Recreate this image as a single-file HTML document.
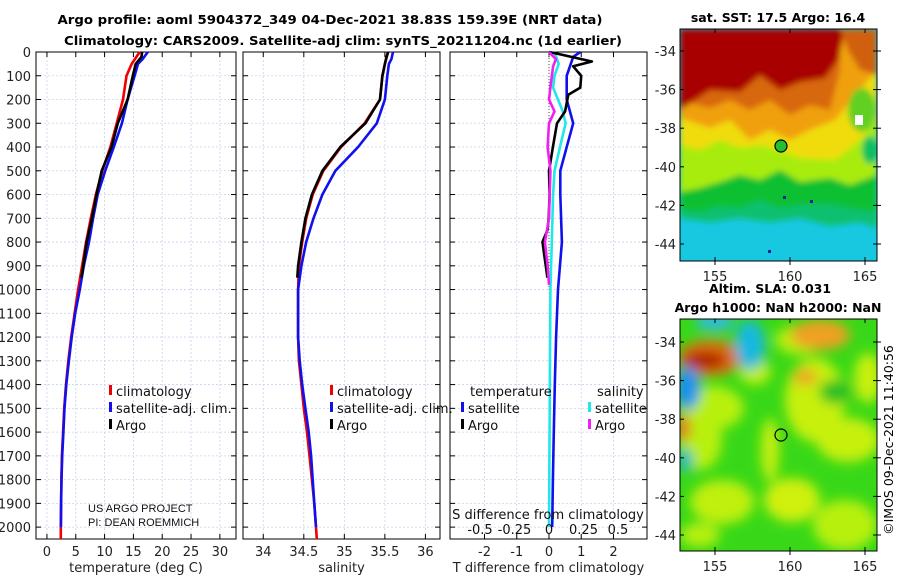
<!DOCTYPE html>
<html><head><meta charset="utf-8"><style>
html,body{margin:0;padding:0;background:#fff;width:900px;height:580px;overflow:hidden}
svg{display:block;font-family:"DejaVu Sans","Liberation Sans",sans-serif}
</style></head><body>
<svg id="fig" width="900" height="580" viewBox="0 0 900 580" xmlns="http://www.w3.org/2000/svg">
<defs>
<filter id="blur3" x="-20%" y="-20%" width="140%" height="140%"><feGaussianBlur stdDeviation="3"/></filter>
<filter id="blur6" x="-30%" y="-30%" width="160%" height="160%"><feGaussianBlur stdDeviation="6"/></filter>
<clipPath id="clipTop"><rect x="680" y="29" width="197" height="232"/></clipPath>
<clipPath id="clipBot"><rect x="680" y="319" width="197" height="232"/></clipPath>
</defs>
<g font-weight="bold" font-size="12.5" text-anchor="middle">
<text x="330" y="24" textLength="545" lengthAdjust="spacingAndGlyphs">Argo profile: aoml 5904372_349 04-Dec-2021 38.83S 159.39E (NRT data)</text>
<text x="343" y="45" textLength="558" lengthAdjust="spacingAndGlyphs">Climatology: CARS2009. Satellite-adj clim: synTS_20211204.nc (1d earlier)</text>
</g>
<g id="panels"></g>

<!-- SST map -->
<g clip-path="url(#clipTop)">
<rect x="680" y="29" width="197" height="232" fill="#18c8e0"/>
<g filter="url(#blur3)">
<path d="M680 29H877V228L860 222L830 226L800 218L770 222L740 218L710 222L680 218Z" fill="#10c070"/>
<path d="M680 29H877V212L850 208L830 204L800 205L780 208L760 200L740 208L720 206L700 212L680 210Z" fill="#10c030"/>
<path d="M680 29H877V175L850 185L830 178L800 182L780 170L760 180L740 175L720 182L700 188L680 192Z" fill="#a8ec10"/>
<path d="M680 29H877V120L860 140L835 160L800 158L780 150L760 145L740 148L720 140L700 150L680 145Z" fill="#f0dc10"/>
<path d="M680 29H877V70L860 90L835 120L810 130L790 140L770 130L750 140L730 120L710 128L680 118Z" fill="#f0a010"/>
<path d="M680 29H840V70L830 110L810 105L790 115L770 100L750 110L730 100L710 108L680 100Z" fill="#d86810"/>
<path d="M680 29H845L838 60L825 78L800 82L780 90L760 75L740 92L710 90L680 110Z" fill="#a80000"/>
<path d="M840 29H877V75L860 70L848 50Z" fill="#d06010"/>
<ellipse cx="862" cy="110" rx="14" ry="22" fill="#60d020"/>
<ellipse cx="870" cy="150" rx="8" ry="14" fill="#10c060"/>
</g>
<rect x="855" y="115" width="8" height="10" fill="#fff"/>
<rect x="810" y="200" width="3" height="3" fill="#0020a0"/>
<rect x="783" y="196" width="3" height="3" fill="#0020a0"/>
<rect x="768" y="250" width="3" height="3" fill="#0020a0"/>
<circle cx="781" cy="146" r="6" fill="#20c030" stroke="#000" stroke-width="1.2"/>
</g>
<rect x="680" y="29" width="197" height="232" fill="none" stroke="#000"/>
<text x="778" y="22" text-anchor="middle" font-weight="bold" font-size="12.5">sat. SST: 17.5 Argo: 16.4</text>

<!-- SLA map -->
<g clip-path="url(#clipBot)">
<rect x="680" y="319" width="197" height="232" fill="#38d818"/>
<g filter="url(#blur6)">
<ellipse cx="700" cy="440" rx="22" ry="30" fill="#b8f010"/>
<ellipse cx="712" cy="408" rx="32" ry="22" fill="#b8f010"/>
<ellipse cx="800" cy="340" rx="25" ry="15" fill="#b8f010"/>
<ellipse cx="815" cy="400" rx="30" ry="42" fill="#c8f010"/>
<ellipse cx="848" cy="440" rx="32" ry="22" fill="#c8f010"/>
<ellipse cx="868" cy="378" rx="14" ry="25" fill="#c8f010"/>
<ellipse cx="792" cy="500" rx="28" ry="22" fill="#d0f010"/>
<ellipse cx="770" cy="450" rx="9" ry="32" fill="#c8f010"/>
<ellipse cx="722" cy="502" rx="32" ry="22" fill="#c0f010"/>
<ellipse cx="845" cy="525" rx="32" ry="25" fill="#b8f010"/>
<ellipse cx="755" cy="372" rx="16" ry="13" fill="#c0f010"/>
<ellipse cx="700" cy="535" rx="20" ry="12" fill="#b8f010"/>
<ellipse cx="820" cy="335" rx="30" ry="15" fill="#f0a020"/>
<ellipse cx="805" cy="377" rx="12" ry="8" fill="#f0a020"/>
<ellipse cx="710" cy="358" rx="32" ry="18" fill="#e07010"/>
<ellipse cx="705" cy="360" rx="22" ry="8" fill="#a81000"/>
<ellipse cx="683" cy="428" rx="8" ry="14" fill="#e08020"/>
<ellipse cx="750" cy="345" rx="15" ry="25" fill="#18b8e0"/>
<ellipse cx="715" cy="322" rx="20" ry="8" fill="#30b8f0"/>
<ellipse cx="688" cy="388" rx="12" ry="22" fill="#1890f0"/>
<ellipse cx="685" cy="460" rx="8" ry="12" fill="#10b8c0"/>
<ellipse cx="835" cy="392" rx="16" ry="12" fill="#20c020"/>
</g>
<circle cx="781" cy="435" r="6" fill="none" stroke="#000" stroke-width="1.2"/>
</g>
<rect x="680" y="319" width="197" height="232" fill="none" stroke="#000"/>
<g font-weight="bold" font-size="12.5" text-anchor="middle">
<text x="770" y="293">Altim. SLA: 0.031</text>
<text x="778" y="312">Argo h1000: NaN h2000: NaN</text>
</g>
<text transform="translate(893,440) rotate(-90)" text-anchor="middle" font-size="12.5">©IMOS 09-Dec-2021 11:40:56</text>
<g id="mapaxes"></g>
</svg>
<script>
// ---- data ----
const depthTicks = [0,100,200,300,400,500,600,700,800,900,1000,1100,1200,1300,1400,1500,1600,1700,1800,1900,2000];
const tempTicks = [0,5,10,15,20,25,30];
const salTicks = [34,34.5,35,35.5,36];
const salTickLabels = ["34","34.5","35","35.5","36"];
const tdTicks = [-2,-1,0,1,2];
const sdTickVals = [-0.5,-0.25,0,0.25,0.5];
const sdTickLabels = ["-0.5","-0.25","0","0.25","0.5"];

const climDepth = [0,50,100,200,300,400,500,600,700,800,900,1000,1100,1200,1300,1400,1500,1600,1700,1800,1900,2000,2050];
const climTemp = [16.1,14.7,13.8,13.2,12.1,11.0,9.6,8.5,7.6,6.8,6.1,5.4,4.8,4.2,3.7,3.3,3.0,2.8,2.6,2.5,2.45,2.4,2.4];
const satDepth = [0,30,50,100,200,300,400,500,600,700,800,900,1000,1100,1200,1300,1400,1500,1600,1700,1800,1900,2000];
const satTemp = [17.5,16.6,15.8,15.2,14.0,13.0,11.6,10.1,8.8,8.0,7.3,6.4,5.7,4.9,4.3,3.8,3.35,3.05,2.85,2.65,2.52,2.46,2.42];
const argoDepth = [0,20,50,100,200,300,400,500,600,700,800,900,950];
const argoTemp = [16.5,16.4,15.4,14.9,14.0,12.3,11.2,9.5,8.6,7.8,6.9,6.3,6.0];

const climSal = [35.54,35.5,35.47,35.44,35.25,34.96,34.74,34.61,34.53,34.48,34.44,34.43,34.43,34.43,34.44,34.47,34.5,34.54,34.57,34.6,34.63,34.65,34.66];
const satSal = [35.6,35.58,35.55,35.53,35.5,35.4,35.17,34.89,34.73,34.62,34.53,34.47,34.43,34.43,34.43,34.45,34.48,34.52,34.56,34.59,34.61,34.63,34.65];
const argoSal = [35.54,35.52,35.5,35.47,35.44,35.26,34.95,34.73,34.6,34.52,34.47,34.43,34.42];

const tdiffSatDepth = [0,20,100,200,300,400,500,600,800,1000,1200,1400,1600,1800,2000];
const tdiffSat = [0.97,0.75,0.55,0.55,0.75,0.55,0.35,0.35,0.4,0.28,0.22,0.18,0.15,0.12,0.1];
const tdiffArgoDepth = [0,10,40,60,100,150,180,250,300,400,500,600,700,750,800,850,900,950];
const tdiffArgo = [0,0.35,1.33,0.75,1.0,0.97,0.6,0.5,0.25,0.12,0.0,0.02,-0.01,-0.05,-0.2,-0.15,-0.1,-0.05];
const sdiffSatDepth = [0,50,100,150,250,300,400,500,600,800,1000,1500,2000];
const sdiffSat = [0.04,0.07,0.04,0.03,0.1,0.12,0.08,0.04,0.03,0.02,0.01,0.005,0];
const sdiffArgoDepth = [0,30,60,150,200,250,300,400,500,700,800,900,980];
const sdiffArgo = [0,0.05,0.03,0.01,0,0.04,0,-0.01,0.01,0,-0.03,-0.01,0];

// ---- axes ----
const NS="http://www.w3.org/2000/svg";
const yTop=52, yBot=539;
const yD = d => yTop + (d/2050)*(yBot-yTop);
const P1={x0:36,x1:236,min:-1.9,max:32.8};
const P2={x0:243,x1:440,min:33.75,max:36.18};
const P3={x0:450,x1:647,min:-3.07,max:3.04};
const sx = (p,v) => p.x0 + (v-p.min)/(p.max-p.min)*(p.x1-p.x0);
const sdx = v => 549 + v*138;
const g=document.getElementById('panels');
function el(tag,attrs,parent){const e=document.createElementNS(NS,tag);for(const k in attrs)e.setAttribute(k,attrs[k]);(parent||g).appendChild(e);return e;}
function txt(x,y,s,attrs,parent){const t=el('text',Object.assign({x:x,y:y,'font-size':13},attrs||{}),parent);t.textContent=s;return t;}

function panel(p,name,ticks,labels,xlabel){
  const grp=el('g',{});
  
  
  depthTicks.forEach(d=>{
    el('line',{x1:p.x0,x2:p.x1,y1:yD(d),y2:yD(d),stroke:'#c8d2ee','stroke-dasharray':'2,2','stroke-width':0.8},grp);
    el('line',{x1:p.x0,x2:p.x0+5,y1:yD(d),y2:yD(d),stroke:'#000'},grp);
    el('line',{x1:p.x1-5,x2:p.x1,y1:yD(d),y2:yD(d),stroke:'#000'},grp);
  });
  ticks.forEach((v,i)=>{
    const x=sx(p,v);
    el('line',{x1:x,x2:x,y1:yTop,y2:yBot,stroke:'#c8d2ee','stroke-dasharray':'2,2','stroke-width':0.8},grp);
    el('line',{x1:x,x2:x,y1:yBot-5,y2:yBot,stroke:'#000'},grp);
    el('line',{x1:x,x2:x,y1:yTop,y2:yTop+5,stroke:'#000'},grp);
    const t=txt(x,556,labels[i],{'text-anchor':'middle','fill':'#222'},grp);
    
    
  });
  const xl=txt((p.x0+p.x1)/2,572,xlabel,{'text-anchor':'middle','fill':'#222'},grp);
  
  
  el('rect',{x:p.x0,y:yTop,width:p.x1-p.x0,height:yBot-yTop,fill:'none',stroke:'#000'},grp);
  return grp;
}
function line(pts,color,name,parent){
  const l=el('polyline',{points:pts.map(q=>q[0].toFixed(1)+','+q[1].toFixed(1)).join(' '),fill:'none',stroke:color,'stroke-width':2.6,'stroke-linejoin':'round'},parent);
  
  
  return l;
}
function legendEntry(x,y,color,label,parent){
  if(color){el('rect',{x:x,y:y-6,width:3,height:10,fill:color},parent);}
  const t=txt(x+(color?7:0),y+5,label,{'fill':'#111'},parent);
  
  
}

const yl=el('g',{});


depthTicks.forEach(d=>{txt(31,yD(d)+5,String(d),{'text-anchor':'end','fill':'#222'},yl);});

const g1=panel(P1,'temperature-panel',tempTicks,tempTicks.map(String),'temperature (deg C)');
line(climDepth.map((d,i)=>[sx(P1,climTemp[i]),yD(d)]),'#f00000','temp-climatology-line',g1);
line(satDepth.map((d,i)=>[sx(P1,satTemp[i]),yD(d)]),'#1010ee','temp-satellite-line',g1);
line(argoDepth.map((d,i)=>[sx(P1,argoTemp[i]),yD(d)]),'#000','temp-argo-line',g1);
legendEntry(109,391,'#f00000','climatology',g1);
legendEntry(109,408,'#1010ee','satellite-adj. clim.',g1);
legendEntry(109,425,'#000','Argo',g1);
const credit=el('g',{'font-size':11,'fill':'#111'},g1);


txt(88,512,'US ARGO PROJECT',{'font-size':11,'font-family':'Liberation Sans Narrow, Liberation Sans, sans-serif'},credit);
txt(88,526,'PI: DEAN ROEMMICH',{'font-size':11,'font-family':'Liberation Sans Narrow, Liberation Sans, sans-serif'},credit);

const g2=panel(P2,'salinity-panel',salTicks,salTickLabels,'salinity');
line(climDepth.map((d,i)=>[sx(P2,climSal[i]),yD(d)]),'#f00000','sal-climatology-line',g2);
line(satDepth.map((d,i)=>[sx(P2,satSal[i]),yD(d)]),'#1010ee','sal-satellite-line',g2);
line(argoDepth.map((d,i)=>[sx(P2,argoSal[i]),yD(d)]),'#000','sal-argo-line',g2);
legendEntry(330,391,'#f00000','climatology',g2);
legendEntry(330,408,'#1010ee','satellite-adj. clim.',g2);
legendEntry(330,425,'#000','Argo',g2);

const g3=panel(P3,'difference-panel',tdTicks,tdTicks.map(String),'T difference from climatology');
el('line',{x1:549,x2:549,y1:yTop,y2:yD(1000),stroke:'#555','stroke-dasharray':'1,2'},g3);
line(sdiffSatDepth.map((d,i)=>[sdx(sdiffSat[i]),yD(d)]),'#20e8e8','sdiff-satellite-line',g3);
line(tdiffSatDepth.map((d,i)=>[sx(P3,tdiffSat[i]),yD(d)]),'#1010ee','tdiff-satellite-line',g3);
line(tdiffArgoDepth.map((d,i)=>[sx(P3,tdiffArgo[i]),yD(d)]),'#000','tdiff-argo-line',g3);
line(sdiffArgoDepth.map((d,i)=>[sdx(sdiffArgo[i]),yD(d)]),'#f020f0','sdiff-argo-line',g3);
legendEntry(470,391,null,'temperature',g3);
legendEntry(461,408,'#1010ee','satellite',g3);
legendEntry(461,425,'#000','Argo',g3);
legendEntry(597,391,null,'salinity',g3);
legendEntry(588,408,'#20e8e8','satellite',g3);
legendEntry(588,425,'#f020f0','Argo',g3);
const st=txt(548,519,'S difference from climatology',{'text-anchor':'middle','fill':'#111'},g3);


sdTickVals.forEach((v,i)=>{
  const t=txt(sdx(v),534,sdTickLabels[i],{'text-anchor':'middle','fill':'#111'},g3);
  
  
});

const lonTicks=[155,160,165];
const latTicks=[-34,-36,-38,-40,-42,-44];
const ma=document.getElementById('mapaxes');
const lonX = lon => 715 + (lon-155)*15;
[[51,19.3,261,false],[342,19.3,551,true]].forEach(cfg=>{
  const [y34,py,bottom]=cfg;
  const top = bottom-232;
  latTicks.forEach(lat=>{
    const y=y34+(-34-lat)*py;
    el('line',{x1:680,x2:684,y1:y,y2:y,stroke:'#000'},ma);
    el('line',{x1:873,x2:881,y1:y,y2:y,stroke:'#000'},ma);
    const t=txt(676,y+5,String(lat),{'text-anchor':'end','fill':'#222'},ma);
    
    
  });
  lonTicks.forEach(lon=>{
    const x=lonX(lon);
    el('line',{x1:x,x2:x,y1:bottom-4,y2:bottom+4,stroke:'#000'},ma);
    el('line',{x1:x,x2:x,y1:top,y2:top+4,stroke:'#000'},ma);
    const t=txt(x,bottom+20,String(lon),{'text-anchor':'middle','fill':'#222'},ma);
    
    
  });
});
</script>
</body></html>
